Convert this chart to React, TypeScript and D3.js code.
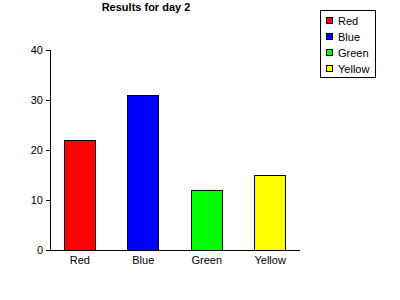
import React, { useEffect, useRef } from "react";
import * as d3 from "d3";

const categories = ["Red", "Blue", "Green", "Yellow"];
const values = [22, 31, 12, 15];
const colors = ["#ff0000", "#0000ff", "#00ff00", "#ffff00"];
const yTicks = [0, 10, 20, 30, 40];
const title = "Results for day 2";

export default function App() {
  const ref = useRef<SVGSVGElement>(null);

  useEffect(() => {
    const svg = d3.select(ref.current);
    svg.selectAll("*").remove();
    const font = "Arial, 'Liberation Sans', sans-serif";

    const x = d3
      .scaleBand<string>()
      .domain(categories)
      .range([50, 300])
      .paddingInner(0.5)
      .paddingOuter(0.22);
    const y = d3.scaleLinear().domain([0, 40]).range([250, 50]);

    svg
      .append("rect")
      .attr("width", 400)
      .attr("height", 300)
      .attr("fill", "#fff");

    // title
    svg
      .append("text")
      .attr("x", 146)
      .attr("y", 11)
      .attr("text-anchor", "middle")
      .attr("font-family", font)
      .attr("font-size", 11)
      .attr("font-weight", "bold")
      .text(title);

    // bars
    svg
      .append("g")
      .selectAll("rect")
      .data(values)
      .join("rect")
      .attr("x", (_, i) => Math.round(x(categories[i])!) + 0.5)
      .attr("y", (d) => Math.round(y(d)) + 0.5)
      .attr("width", Math.round(x.bandwidth()) - 1)
      .attr("height", (d) => Math.round(y(0)) - Math.round(y(d)))
      .attr("fill", (_, i) => colors[i])
      .attr("stroke", "#000")
      .attr("stroke-width", 1)
      .attr("shape-rendering", "crispEdges");

    // axes lines
    const axes = svg.append("g").attr("shape-rendering", "crispEdges");
    axes
      .append("line")
      .attr("x1", 50.5)
      .attr("x2", 50.5)
      .attr("y1", y(40))
      .attr("y2", y(0) + 1)
      .attr("stroke", "#000");
    axes
      .append("line")
      .attr("x1", 50)
      .attr("x2", 300)
      .attr("y1", y(0) + 0.5)
      .attr("y2", y(0) + 0.5)
      .attr("stroke", "#000");

    // y ticks
    const yt = svg.append("g");
    yTicks.forEach((t) => {
      yt.append("line")
        .attr("x1", 46)
        .attr("x2", 50)
        .attr("y1", Math.round(y(t)) + 0.5)
        .attr("y2", Math.round(y(t)) + 0.5)
        .attr("stroke", "#000")
        .attr("shape-rendering", "crispEdges");
      yt.append("text")
        .attr("x", 43)
        .attr("y", y(t) + 4)
        .attr("text-anchor", "end")
        .attr("font-family", font)
        .attr("font-size", 11)
        .text(String(t));
    });

    // category labels
    svg
      .append("g")
      .selectAll("text")
      .data(categories)
      .join("text")
      .attr("x", (d) => x(d)! + x.bandwidth() / 2)
      .attr("y", 264)
      .attr("text-anchor", "middle")
      .attr("font-family", font)
      .attr("font-size", 11)
      .text((d) => d);

    // legend
    const lg = svg.append("g");
    lg.append("rect")
      .attr("x", 320.5)
      .attr("y", 10.5)
      .attr("width", 55)
      .attr("height", 67)
      .attr("fill", "#fff")
      .attr("stroke", "#000")
      .attr("shape-rendering", "crispEdges");
    categories.forEach((c, i) => {
      lg.append("rect")
        .attr("x", 326.5)
        .attr("y", 17.5 + i * 16)
        .attr("width", 6)
        .attr("height", 6)
        .attr("fill", colors[i])
        .attr("stroke", "#000")
        .attr("shape-rendering", "crispEdges");
      lg.append("text")
        .attr("x", 338)
        .attr("y", 24.5 + i * 16)
        .attr("font-family", font)
        .attr("font-size", 11)
        .text(c);
    });
  }, []);

  return (
    <svg
      ref={ref}
      width={400}
      height={300}
      style={{ position: "absolute", left: 0, top: 0 }}
    />
  );
}
